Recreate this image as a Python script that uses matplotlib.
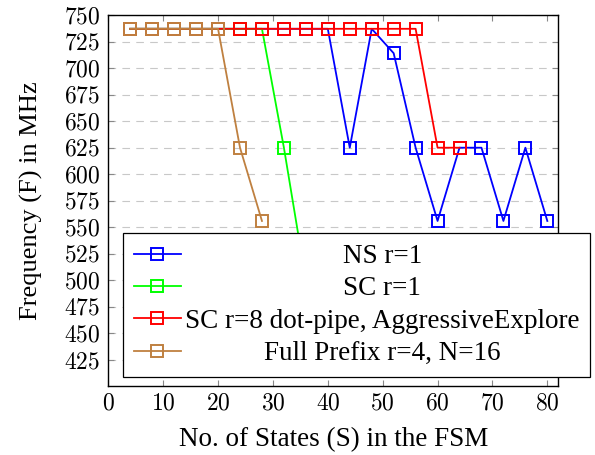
import numpy as np
import matplotlib
matplotlib.use("Agg")
import matplotlib.pyplot as plt
from matplotlib.ticker import FuncFormatter, MultipleLocator

plt.rcParams['font.family'] = ['Liberation Serif', 'DejaVu Serif']
plt.rcParams['mathtext.fontset'] = 'cm'
plt.rcParams['lines.scale_dashes'] = False

# values
states = [4, 8, 12, 16, 20, 24, 28, 32, 36, 40, 44, 48, 52, 56, 60, 64, 68, 72, 76, 80]
freq_ns = [737, 737, 737, 737, 737, 737, 737, 737, 737, 737,
           625, 737, 714, 625, 556, 625, 625, 556, 625, 556]
freq_sc1 = [737, 737, 737, 737, 737, 737, 737, 625, 500]
freq_sc8 = [737, 737, 737, 737, 737, 737, 737, 737, 737, 737, 737, 737, 737, 737, 625, 625]
freq_fp = [737, 737, 737, 737, 737, 625, 556]

labels = ['NS r=1', 'SC r=1', 'SC r=8 dot-pipe, AggressiveExplore', 'Full Prefix r=4, N=16']
colors = ['#0000ff', '#00ff00', '#ff0000', '#bf8040']
series = [freq_ns, freq_sc1, freq_sc8, freq_fp]

fig = plt.figure(figsize=(5.95, 4.55), dpi=100)
ax = fig.add_axes([108.3 / 595, 1 - 385.5 / 455, 450 / 595, 370.5 / 455])

handles = []
for vals, col, lab in zip(series, colors, labels):
    h, = ax.plot(states[:len(vals)], vals, color=col, lw=1.3, marker='s',
                 markersize=8, markerfacecolor='none', markeredgewidth=1.4,
                 label=lab)
    handles.append(h)

ax.set_xlim(0, 82)
ax.set_ylim(401, 750)
ax.xaxis.set_major_locator(MultipleLocator(10))
ax.set_yticks(np.arange(425, 751, 25))
fmt = FuncFormatter(lambda v, p: f'${v:.0f}$')
ax.xaxis.set_major_formatter(fmt)
ax.yaxis.set_major_formatter(fmt)
ax.tick_params(direction='in', length=4.5, width=0.8, color='#888888',
               top=True, right=True, labelsize=17)
ax.tick_params(axis='x', pad=6)
ax.tick_params(axis='y', pad=6)
ax.yaxis.grid(True, color='#c8c8c8', lw=0.8, linestyle=(0, (5.5, 4.5)))
ax.set_axisbelow(True)
for s in ax.spines.values():
    s.set_linewidth(1.0)

ax.set_xlabel('No. of States (S) in the FSM', fontsize=19.5, labelpad=9)
ax.set_ylabel('Frequency (F) in MHz', fontsize=19, labelpad=15)

leg = ax.legend(handles=handles, loc='upper left',
                bbox_to_anchor=(122.7 / 595, 1 - 233.3 / 455),
                bbox_transform=fig.transFigure, fontsize=19.5,
                frameon=True, fancybox=False, framealpha=1, edgecolor='black',
                borderpad=0.4, labelspacing=0.27, handlelength=1.75,
                handletextpad=0.15, borderaxespad=0)
leg.get_frame().set_linewidth(0.9)
leg.set_zorder(10)

# center the legend texts in their column, like pgfplots does
fig.canvas.draw()
r = fig.canvas.get_renderer()
texts = leg.get_texts()
widths = [t.get_window_extent(r).width for t in texts]
wmax = max(widths)
for t, w in zip(texts, widths):
    t.set_x((wmax - w) / 2)

fig.savefig('out.png', dpi=100)
